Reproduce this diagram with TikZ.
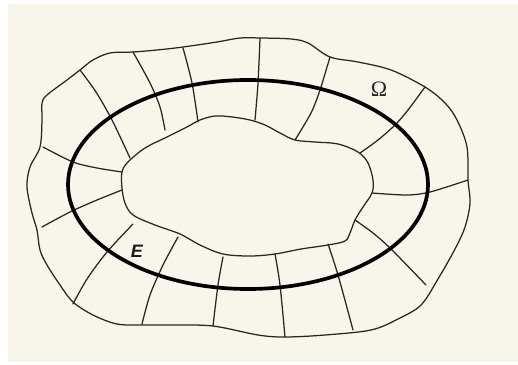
\documentclass[tikz,border=0pt]{standalone}
\usepackage{fontspec}
\newfontfamily\efont{Liberation Sans}
\newfontfamily\omfont{Liberation Serif}
\begin{document}
\begin{tikzpicture}[x=1pt,y=-1pt,
  thin line/.style={draw=black!85,line width=1.25pt,line join=round,line cap=round},
  radial/.style={thin line},
  bigellipse/.style={draw=black,line width=3.7pt}]
\definecolor{cream}{RGB}{248,246,234}
\useasboundingbox (0,0) rectangle (518,364);
\fill[white] (0,0) rectangle (518,364);
\fill[cream] (8,4) rectangle (518,362);
% outer boundary
\draw[thin line] plot[smooth cycle,tension=0.55] coordinates {
 (47,95) (67,80) (80,70) (93,60) (110,53) (133,52) (157,50) (183,47) (217,42) (240,38) (260,38)
 (291,39) (308,43) (330,57) (358,62) (391,70) (425,87) (445,103) (457,120) (467,147) (468,180)
 (470,203) (465,227) (455,249) (438,279) (421,305) (398,319) (371,330) (325,335) (285,337) (258,335)
 (213,326) (173,325) (143,325) (117,324) (93,315) (73,302) (60,285) (47,265) (40,250) (37,230)
 (32,213) (27,187) (30,167) (40,147) (42,120) (42,103)};
% inner boundary
\draw[thin line] plot[smooth cycle,tension=0.55] coordinates {
 (122,172) (128,162) (145,148) (167,137) (187,127) (200,120) (215,116) (232,117) (250,120)
 (265,125) (280,133) (295,140) (315,142) (338,144) (358,152) (368,163) (373,180) (372,193)
 (363,207) (355,220) (350,233) (345,241) (328,245) (301,249) (275,254) (250,256) (223,254)
 (200,245) (180,234) (155,225) (133,215) (125,203) (122,188)};
% radial lines
\draw[radial] plot[smooth,tension=0.5] coordinates {(80,70) (96,92) (112,120) (130,158)};
\draw[radial] plot[smooth,tension=0.5] coordinates {(133,52) (150,83) (160,107) (165,130)};
\draw[radial] plot[smooth,tension=0.5] coordinates {(183,48) (192,83) (198,122)};
\draw[radial] plot[smooth,tension=0.5] coordinates {(260,38) (258,83) (255,120)};
\draw[radial] plot[smooth,tension=0.5] coordinates {(330,57) (320,90) (311,113) (295,140)};
\draw[radial] plot[smooth,tension=0.5] coordinates {(425,87) (408,110) (395,125) (378,140) (360,153)};
\draw[radial] plot[smooth,tension=0.5] coordinates {(468,180) (430,192) (407,195) (372,193)};
\draw[radial] plot[smooth,tension=0.5] coordinates {(355,220) (373,233) (391,249) (426,285)};
\draw[radial] plot[smooth,tension=0.5] coordinates {(328,244) (338,275) (353,330)};
\draw[radial] plot[smooth,tension=0.5] coordinates {(275,254) (280,285) (285,337)};
\draw[radial] plot[smooth,tension=0.5] coordinates {(223,257) (218,285) (213,326)};
\draw[radial] plot[smooth,tension=0.5] coordinates {(178,237) (163,265) (150,295) (142,324)};
\draw[radial] plot[smooth,tension=0.5] coordinates {(133,224) (107,252) (87,279) (73,304)};
\draw[radial] plot[smooth,tension=0.5] coordinates {(42,227) (70,212) (97,200) (122,190)};
\draw[radial] plot[smooth,tension=0.5] coordinates {(43,147) (73,162) (97,168) (122,172)};
% thick ellipse
\draw[bigellipse] (248,184.5) ellipse [x radius=180, y radius=104.5];
% labels
\node[font=\omfont\fontsize{22}{22}\selectfont, text=black!85] (omega) at (379,89) {Ω};
\node[font=\efont\bfseries\itshape\fontsize{18}{18}\selectfont, text=black!90] (elabel) at (137,251) {E};
\end{tikzpicture}
\end{document}
